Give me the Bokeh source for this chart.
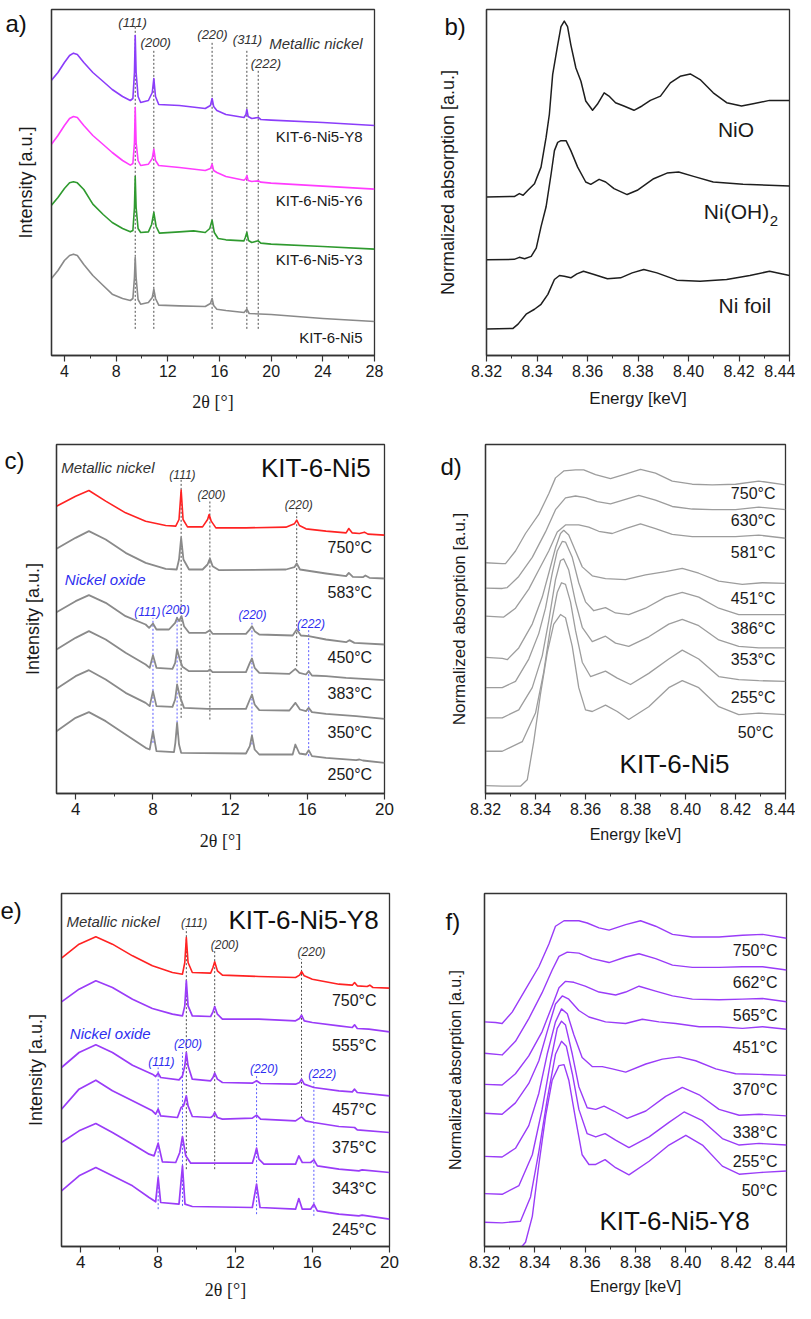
from bokeh.plotting import figure
from bokeh.models import Range1d, Title, FixedTicker, NumeralTickFormatter
from bokeh.layouts import row, column
from bokeh.embed import file_html
from bokeh.resources import INLINE
from bokeh.core.properties import value

FONT = "Liberation Sans"
SERIF = "Liberation Serif"

# ======================= panel a : XRD, reduced samples =======================
A_X = [3.0,3.5,4.0,4.4,4.7,5.0,5.5,6.2,7.0,7.7,8.5,9.1,9.3,9.42,9.48,9.55,9.7,9.9,10.5,10.8,
       10.92,11.05,11.3,12.9,14.9,15.3,15.43,15.55,15.8,16.5,17.9,18.05,18.12,18.22,18.5,19.0,19.2,20,24,28]
A_Y8 = [826,849,879,900,907,903,879,849,822,798,777,765,771,849,960,849,777,759,765,789,
        831,777,753,750,741,750,771,747,735,723,714,723,738,717,711,714,708,706,699,690]
A_Y6 = [634,660,690,711,717,714,690,660,633,609,585,571,576,639,744,639,585,570,574,591,
        619,585,570,564,555,561,574,555,549,537,526,531,540,525,522,524,520,517,508,499]
A_X_Y3 = [3.0,3.5,4.0,4.4,4.7,5.0,5.5,6.2,7.0,7.7,8.5,9.1,9.3,9.42,9.48,9.55,9.7,9.9,10.5,10.75,
          10.92,11.1,11.35,12.9,14.0,14.9,15.25,15.43,15.6,15.9,16.5,17.9,18.0,18.12,18.25,18.5,19.0,19.2,20,24,28]
A_Y3 = [451,474,501,518,521,518,498,454,423,399,381,371,375,444,537,444,381,369,371,393,
        429,387,367,371,374,369,381,406,369,351,347,344,354,369,345,339,344,337,334,327,319]
A_X_NI5 = [3.0,3.5,4.0,4.4,4.7,5.0,5.5,6.2,7.0,7.7,8.5,9.1,9.3,9.42,9.48,9.55,9.7,9.9,10.5,10.8,
           10.92,11.05,11.3,12.9,14.9,15.3,15.43,15.55,15.8,16.5,17.9,18.12,18.3,20,24,28]
A_NI5 = [231,255,285,300,304,300,273,240,210,184,171,165,171,234,294,234,168,154,159,174,
         199,171,151,149,147,156,171,150,139,135,129,139,126,123,111,102]
A_SAMPLES = ["KIT-6-Ni5-Y8", "KIT-6-Ni5-Y6", "KIT-6-Ni5-Y3", "KIT-6-Ni5"]
A_SAMPLE_Y = [657, 464, 287, 54]
A_PEAK_X = [9.48, 10.92, 15.43, 18.12, 19.0]
A_PEAK_TOP = [989, 919, 939, 919, 856]
A_PEAK_BOT = [80, 80, 80, 80, 80]
A_HKL = ["(111)", "(200)", "(220)", "(311)", "(222)"]
A_HKL_X = [9.27, 11.07, 15.46, 18.17, 19.59]
A_HKL_Y = [999, 939, 964, 949, 876]

# ======================= panel b : XANES references =======================
B_X_NIO = [8.320,8.331,8.333,8.3345,8.3364,8.339,8.3416,8.3436,8.3449,8.3462,8.3482,
           8.3495,8.3508,8.3521,8.3534,8.3554,8.3574,8.3593,8.362,8.3639,8.3666,
           8.3685,8.3711,8.3744,8.3784,8.3816,8.3849,8.3889,8.3928,8.3967,8.4007,
           8.4046,8.4098,8.4151,8.421,8.4256,8.4321,8.44]
B_NIO = [483,484,493,488,503,523,573,663,733,853,943,
         998,1015,998,943,873,833,773,745,763,798,
         788,768,758,745,758,775,788,828,848,855,
         838,798,768,758,765,775,775]
B_X_OH = [8.32,8.331,8.333,8.3351,8.3377,8.3397,8.3416,8.3436,8.3456,8.3469,
          8.3482,8.3495,8.3515,8.3534,8.3561,8.3593,8.3613,8.3646,8.3672,8.3705,
          8.3757,8.3797,8.3862,8.3915,8.3961,8.402,8.4098,8.4216,8.44]
B_OH = [293,294,300,296,303,328,393,453,553,623,
        648,653,653,623,573,528,521,536,528,508,
        490,503,538,555,558,545,528,521,516]
B_X_NI = [8.32,8.3305,8.3325,8.3357,8.339,8.3416,8.3443,8.3469,8.3489,8.3508,
          8.3534,8.3558,8.3584,8.3626,8.3679,8.3731,8.3777,8.3823,8.3875,8.3954,
          8.4046,8.4151,8.4243,8.4321,8.44]
B_NI = [83,85,98,128,143,158,188,233,245,243,
        238,250,258,248,235,238,253,263,253,231,
        228,233,245,258,245]

# ======================= panel c : XRD in situ, KIT-6-Ni5 =======================
C_X_750 = [3.0,3.99,4.68,5.55,6.58,7.62,8.66,9.18,9.35,9.46,9.56,9.79,10.57,10.83,10.91,11.02,11.26,
           12.82,14.89,15.33,15.45,15.59,15.93,16.97,18.01,18.15,18.32,18.70,18.96,19.14,20.0]
C_750 = [863,893,910,878,843,818,805,803,823,911,823,801,801,823,838,818,798,
         798,800,810,821,805,795,788,783,796,783,781,785,779,776]
C_X_583 = [3.0,3.99,4.68,5.55,6.58,7.62,8.66,9.23,9.35,9.46,9.58,9.87,10.57,10.83,10.95,11.09,11.43,
           14.89,15.33,15.45,15.62,16.97,18.01,18.15,18.36,18.88,19.01,19.22,20.0]
C_583 = [735,768,788,763,723,693,675,673,703,768,703,673,673,688,706,683,671,
         673,680,691,673,661,653,663,651,650,655,648,646]
C_X_450 = [3.0,3.99,4.68,5.55,6.58,7.62,7.80,8.00,8.18,8.83,9.15,9.25,9.35,9.48,9.61,9.87,10.74,10.95,
           11.09,12.82,12.99,13.13,13.27,13.51,15.24,15.45,15.67,16.07,16.97,18.01,18.18,18.44,20.0]
C_450 = [545,578,596,573,533,508,498,511,493,493,513,528,518,533,503,483,483,491,
         480,480,491,503,488,478,475,493,475,473,463,455,461,453,448]
C_X_383 = [3.0,3.99,4.68,5.55,6.58,7.62,7.83,8.00,8.18,9.01,9.15,9.25,9.39,9.53,9.87,10.83,10.95,11.09,
           12.82,13.02,13.13,13.27,13.51,15.07,15.38,15.59,15.93,16.07,16.24,16.97,18.01,20.0]
C_383 = [433,468,488,463,423,388,378,416,378,375,393,433,403,381,368,368,373,365,
         365,393,406,378,363,360,375,363,358,368,355,353,348,341]
C_X_350 = [3.0,3.99,4.68,5.55,6.58,7.62,7.83,8.00,8.18,9.01,9.15,9.25,9.39,9.61,10.83,12.82,13.02,13.13,
           13.27,13.51,15.07,15.38,15.62,15.93,16.07,16.24,16.97,18.53,20.0]
C_350 = [315,353,371,343,303,273,263,308,263,261,283,328,293,258,255,255,283,298,
         268,251,250,273,253,248,258,245,240,233,225]
C_X_250 = [3.0,3.99,4.68,5.55,6.58,7.62,7.83,8.00,8.18,9.09,9.16,9.25,9.35,9.46,12.82,13.02,13.13,13.27,
           13.51,15.24,15.38,15.59,15.93,16.07,16.24,16.97,18.53,18.70,18.88,20.0]
C_250 = [188,228,245,218,178,138,133,188,128,125,153,213,148,123,121,143,175,133,
         118,118,148,121,118,131,113,108,101,103,100,93]
C_TEMPS = ["750°C", "583°C", "450°C", "383°C", "350°C", "250°C"]
C_TEMP_Y = [738, 603, 408, 300, 185, 58]
C_NI_PK = [9.46, 10.95, 15.45]
C_NI_TOP = [943, 881, 853]
C_NI_BOT = [228, 223, 383]
C_NI_HKL = ["(111)", "(200)", "(220)"]
C_NI_HKL_X = [9.53, 11.03, 15.55]
C_NI_HKL_Y = [958, 898, 866]
C_OX_PK = [8.00, 9.25, 13.13, 16.07]
C_OX_TOP = [528, 531, 513, 493]
C_OX_BOT = [153, 178, 148, 113]
C_OX_HKL = ["(111)", "(200)", "(220)", "(222)"]
C_OX_HKL_X = [7.71, 9.18, 13.16, 16.19]
C_OX_HKL_Y = [545, 553, 536, 511]

# ======================= panel d : XANES in situ, KIT-6-Ni5 =======================
D_X_750 = [8.32,8.3267,8.328,8.332,8.336,8.3413,8.3453,8.348,8.3513,8.356,8.3593,8.364,8.37,8.376,
           8.382,8.388,8.3947,8.4027,8.4107,8.42,8.4293,8.44]
D_750 = [723,720,720,760,815,875,940,990,1012,1015,1015,1000,988,1002,1017,1005,980,970,968,970,980,968]
D_X_630 = [8.32,8.3267,8.3287,8.3333,8.3387,8.344,8.348,8.352,8.356,8.36,8.3647,8.37,8.376,8.3813,
           8.388,8.3947,8.4027,8.4107,8.42,8.4293,8.44]
D_630 = [643,642,645,680,740,820,890,927,933,928,915,908,922,935,920,900,892,890,890,898,890]
D_X_581 = [8.32,8.3253,8.3273,8.332,8.3373,8.3413,8.3453,8.3487,8.352,8.3573,8.3613,8.3653,8.3707,
           8.376,8.382,8.388,8.3947,8.4027,8.4107,8.42,8.4293,8.44]
D_581 = [555,553,552,580,640,700,760,820,842,842,835,822,815,830,845,830,812,805,805,805,810,800]
D_X_451 = [8.32,8.3267,8.3287,8.3333,8.3387,8.3427,8.3453,8.348,8.35,8.3513,8.3533,8.356,8.3587,
           8.3627,8.368,8.376,8.384,8.392,8.3987,8.4053,8.4133,8.4227,8.4307,8.44]
D_451 = [425,422,418,455,530,615,690,770,815,825,810,760,710,682,673,670,685,695,705,690,665,655,660,658]
D_X_386 = [8.32,8.3267,8.332,8.3373,8.3413,8.344,8.3467,8.3487,8.3507,8.352,8.3547,8.3573,8.36,
           8.3633,8.368,8.372,8.3773,8.384,8.392,8.3987,8.4053,8.4133,8.4213,8.4293,8.44]
D_386 = [330,330,350,420,500,580,690,760,790,788,740,660,600,572,582,565,560,580,615,630,615,580,560,560,560]
D_X_353 = [8.32,8.3267,8.3333,8.3387,8.3427,8.3453,8.348,8.35,8.3513,8.3533,8.356,8.3587,8.3627,
           8.368,8.372,8.3773,8.3853,8.3933,8.3987,8.4053,8.4133,8.4213,8.4293,8.44]
D_353 = [235,235,260,330,430,540,670,730,735,700,600,520,475,492,470,460,490,530,545,525,480,460,455,455]
D_X_255 = [8.32,8.3267,8.3347,8.34,8.3433,8.346,8.3487,8.3504,8.352,8.354,8.356,8.3587,8.362,
           8.368,8.3727,8.378,8.3853,8.3933,8.3987,8.4053,8.4133,8.4213,8.4293,8.44]
D_255 = [130,130,160,250,380,520,630,660,655,600,510,410,365,382,360,340,375,420,448,420,365,355,352,350]
D_X_50 = [8.32,8.3267,8.334,8.3367,8.3393,8.342,8.3447,8.3473,8.35,8.352,8.3547,8.3573,8.36,
          8.3627,8.368,8.3727,8.3773,8.3853,8.3933,8.3987,8.4053,8.4133,8.4213,8.4293,8.44]
D_50 = [22,20,20,40,160,310,440,530,560,550,460,330,260,255,275,255,230,270,330,352,330,270,245,250,245]
D_TEMPS = ["750°C", "630°C", "581°C", "451°C", "386°C", "353°C", "255°C", "50°C"]
D_TEMP_Y = [940, 855, 755, 610, 517, 420, 300, 190]

# ======================= panel e : XRD in situ, KIT-6-Ni5-Y8 =======================
E_X_750 = [3.0,3.91,4.78,5.64,6.68,7.71,8.75,9.27,9.39,9.47,9.56,9.78,10.73,10.85,10.94,11.08,11.34,
           13.23,15.13,15.34,15.44,15.58,16.00,17.38,18.07,18.19,18.33,18.84,18.98,19.14,20.0]
E_750 = [883,925,947,925,890,860,840,835,870,945,870,840,838,855,872,845,832,
         828,825,832,843,830,820,805,802,810,800,798,802,795,793]
E_X_555 = [3.0,3.91,4.78,5.64,6.68,7.71,8.75,9.27,9.39,9.47,9.56,9.78,10.73,10.85,10.94,11.08,11.34,
           13.23,15.13,15.34,15.44,15.58,16.00,17.38,18.07,18.19,18.33,18.93,20.0]
E_555 = [752,790,815,795,760,732,715,710,740,815,740,710,708,722,738,715,700,
         700,695,702,712,695,690,680,675,683,672,670,662]
E_X_457 = [3.0,3.91,4.78,5.64,6.68,7.71,7.88,8.01,8.14,9.09,9.27,9.39,9.47,9.56,9.78,10.73,10.85,10.94,
           11.08,11.34,12.89,13.11,13.32,15.13,15.34,15.44,15.58,16.08,17.38,18.07,18.19,18.33,20.0]
E_457 = [555,600,623,600,562,535,528,538,525,518,530,560,600,560,520,515,525,538,
         520,510,508,515,507,505,510,520,505,495,485,482,490,480,470]
E_X_375 = [3.0,3.91,4.78,5.64,6.68,7.71,7.88,8.01,8.14,9.01,9.20,9.33,9.47,9.56,9.78,10.73,10.85,10.94,
           11.08,11.34,12.89,13.11,13.32,15.13,15.44,15.65,16.08,17.38,18.19,18.33,20.0]
E_375 = [430,490,517,485,455,425,415,430,410,405,435,440,470,440,408,405,410,420,
         405,400,403,412,400,395,407,395,390,378,375,368,360]
E_X_343 = [3.0,3.91,4.78,5.64,6.68,7.54,7.80,8.01,8.23,8.92,9.13,9.27,9.44,9.70,12.89,13.01,13.11,13.23,
           13.49,15.13,15.30,15.48,15.91,16.08,16.26,17.38,18.41,18.58,20.0]
E_343 = [330,365,387,360,325,295,290,328,272,270,300,348,290,268,268,290,313,280,
         265,265,290,270,270,278,260,250,245,248,240]
E_X_245 = [3.0,3.91,4.78,5.64,6.68,7.54,7.88,8.01,8.14,9.09,9.27,9.40,9.78,12.89,13.11,13.29,15.13,15.30,
           15.48,15.91,16.08,16.26,17.38,18.41,18.58,20.0]
E_245 = [185,230,255,230,200,165,152,225,150,145,260,145,138,135,205,135,130,162,
         130,130,145,125,115,110,112,100]
E_TEMPS = ["750°C", "555°C", "457°C", "375°C", "343°C", "245°C"]
E_TEMP_Y = [757, 622, 430, 315, 193, 68]
E_NI_PK = [9.47, 10.94, 15.44]
E_NI_TOP = [972, 905, 880]
E_NI_BOT = [250, 250, 410]
E_NI_HKL_X = [9.87, 11.46, 15.96]
E_NI_HKL_Y = [990, 922, 902]
E_OX_PK = [8.01, 9.27, 13.11, 16.08]
E_OX_TOP = [555, 600, 532, 518]
E_OX_BOT = [130, 140, 115, 110]
E_OX_HKL_X = [8.18, 9.56, 13.49, 16.51]
E_OX_HKL_Y = [573, 627, 550, 535]

# ======================= panel f : XANES in situ, KIT-6-Ni5-Y8 =======================
F_X_750 = [8.32,8.3244,8.327,8.331,8.3363,8.3416,8.3456,8.3482,8.3516,8.3575,8.3608,8.3655,8.3695,
           8.3761,8.382,8.388,8.3947,8.4026,8.4132,8.4225,8.4305,8.44]
F_750 = [718,716,713,748,818,888,958,1013,1030,1030,1023,1008,1001,1018,1030,1013,988,980,980,985,988,976]
F_X_662 = [8.32,8.327,8.3323,8.3376,8.3429,8.3469,8.3496,8.3529,8.3575,8.3628,8.3695,8.3761,8.3814,
           8.388,8.3947,8.4026,8.4132,8.4225,8.4305,8.44]
F_662 = [621,616,658,728,808,878,920,933,930,913,901,918,928,913,893,886,886,888,888,878]
F_X_565 = [8.32,8.327,8.3323,8.3376,8.3429,8.3469,8.3496,8.3522,8.3555,8.36,8.3655,8.3721,8.3761,
           8.3814,8.388,8.3947,8.4026,8.4132,8.4225,8.4305,8.44]
F_565 = [525,523,558,613,688,768,823,843,840,828,810,801,810,828,813,798,788,786,788,790,780]
F_X_451 = [8.32,8.327,8.3323,8.3376,8.3416,8.3449,8.3482,8.3509,8.3535,8.3575,8.3615,8.3681,8.3761,
           8.3827,8.3893,8.396,8.4053,8.4132,8.4225,8.4305,8.44]
F_451 = [436,433,468,528,598,688,773,798,788,753,733,718,713,726,718,713,703,703,698,703,695]
F_X_370 = [8.32,8.327,8.3323,8.3376,8.3416,8.3449,8.3482,8.3506,8.3529,8.3555,8.3588,8.3628,8.3668,
           8.3708,8.3761,8.3841,8.3907,8.3973,8.4039,8.4119,8.4198,8.4291,8.44]
F_370 = [303,301,328,398,498,618,718,758,743,678,608,580,580,573,563,588,603,610,598,573,558,556,553]
F_X_338 = [8.32,8.327,8.3337,8.339,8.3429,8.3463,8.3489,8.3506,8.3522,8.3549,8.3575,8.3608,8.3642,
           8.3675,8.3714,8.3767,8.3841,8.392,8.3986,8.4053,8.4132,8.4212,8.4291,8.44]
F_338 = [188,186,213,308,448,598,698,720,708,618,518,453,448,458,443,420,443,488,516,493,448,430,433,428]
F_X_255 = [8.32,8.327,8.3343,8.3383,8.3416,8.3449,8.3482,8.3506,8.3525,8.3549,8.3575,8.3608,8.3642,
           8.3679,8.3721,8.3774,8.3854,8.3933,8.3993,8.4066,8.4145,8.4212,8.4291,8.44]
F_255 = [100,98,103,178,318,478,618,658,643,558,448,373,363,373,353,330,363,408,440,413,358,338,343,338]
F_X_50 = [8.32,8.327,8.3343,8.3363,8.339,8.3416,8.3443,8.3469,8.3496,8.3516,8.3535,8.3562,8.3588,
          8.3615,8.3642,8.3679,8.3721,8.3774,8.3854,8.3933,8.40,8.4066,8.4145,8.4212,8.4291,8.44]
F_50 = [23,21,20,38,118,278,428,538,583,586,538,418,308,278,278,293,268,246,288,338,368,338,273,248,253,258]
F_TEMPS = ["750°C", "662°C", "565°C", "451°C", "370°C", "338°C", "255°C", "50°C"]
F_TEMP_Y = [938, 840, 738, 638, 508, 378, 288, 198]

XRD_MAJOR = [4, 8, 12, 16, 20, 24, 28]
XRD_MINOR = [6, 10, 14, 18, 22, 26]
E_MAJOR = [8.32, 8.34, 8.36, 8.38, 8.40, 8.42, 8.44]
E_MINOR = [8.33, 8.35, 8.37, 8.39, 8.41, 8.43]

# ---------------- colours / styles ----------------
AX = "#333333"
PURPLE = "#8b3dfa"
MAGENTA = "#ff3cff"
GREEN = "#2f9a2f"
GRAY = "#8a8a8a"
LGRAY = "#9d9d9d"
RED = "#ff2222"
VIOLET = "#9a3cf8"
BLUE_TXT = "#2e2ef0"
BLUE_DASH = "#5a5aff"
DARK_DASH = "#4d4d4d"


def make_fig(w, h, bl, br, bt, bb, xr, yr):
    p = figure(width=w, height=h, x_range=Range1d(*xr), y_range=Range1d(*yr),
               output_backend="svg", toolbar_location=None, title=None,
               min_border_left=bl, min_border_right=br, min_border_top=bt, min_border_bottom=bb)
    p.grid.visible = False
    p.outline_line_color = AX
    p.outline_line_width = 1.3
    p.background_fill_color = "white"
    p.border_fill_color = "white"
    return p


def style_x(p, major, minor, label, tick_size, label_size, label_font, standoff, fmt=None):
    ax = p.xaxis[0]
    ax.ticker = FixedTicker(ticks=major, minor_ticks=minor)
    if fmt:
        ax.formatter = NumeralTickFormatter(format=fmt)
    ax.major_tick_in = 0
    ax.major_tick_out = 6
    ax.minor_tick_in = 0
    ax.minor_tick_out = 3
    ax.axis_line_color = AX
    ax.axis_line_width = 1.3
    ax.major_tick_line_color = AX
    ax.minor_tick_line_color = AX
    ax.major_tick_line_width = 1.2
    ax.major_label_standoff = 3
    ax.major_label_text_font = FONT
    ax.major_label_text_font_size = tick_size
    ax.major_label_text_color = "#1a1a1a"
    ax.axis_label = label
    ax.axis_label_text_font = label_font
    ax.axis_label_text_font_size = label_size
    ax.axis_label_text_font_style = "normal"
    ax.axis_label_text_color = "#1a1a1a"
    ax.axis_label_standoff = standoff


def style_y(p, label, size, standoff):
    ax = p.yaxis[0]
    ax.ticker = FixedTicker(ticks=[])
    ax.major_tick_out = 0
    ax.major_tick_in = 0
    ax.minor_tick_out = 0
    ax.minor_tick_in = 0
    ax.major_tick_line_color = None
    ax.minor_tick_line_color = None
    ax.major_label_standoff = 0
    ax.axis_line_color = AX
    ax.axis_line_width = 1.3
    ax.axis_label = label
    ax.axis_label_text_font = FONT
    ax.axis_label_text_font_size = size
    ax.axis_label_text_font_style = "normal"
    ax.axis_label_text_color = "#1a1a1a"
    ax.axis_label_standoff = standoff


def texts(p, xs, ys, txt, size, color="#1a1a1a", align="left", style="normal"):
    p.text(x=xs, y=ys, text=txt, text_font=value(FONT), text_font_size=size, text_color=color,
           text_align=align, text_baseline="middle", text_font_style=style)


def letter(p, t, offset, standoff):
    # panel letter, drawn as a plot title shifted left of / down beside the frame
    p.add_layout(Title(text=t, align="left", vertical_align="bottom", offset=offset, standoff=standoff,
                       text_font=FONT, text_font_size="24px", text_font_style="normal",
                       text_color="#111111"), "above")


def dashes(p, xs, top, bot, color):
    p.segment(x0=xs, y0=bot, x1=xs, y1=top, line_color=color, line_width=1.0, line_dash="2 2")


# ---------------- panel a ----------------
pa = make_fig(434, 424, 51, 60, 9, 69, (3, 28), (0, 1038))
style_x(pa, XRD_MAJOR, XRD_MINOR, "2θ [°]", "16px", "18px", SERIF, 12)
style_y(pa, "Intensity [a.u.]", "18px", 16)
dashes(pa, A_PEAK_X, A_PEAK_TOP, A_PEAK_BOT, DARK_DASH)
pa.line(A_X_NI5, A_NI5, line_color=GRAY, line_width=1.6, line_join="round")
pa.line(A_X_Y3, A_Y3, line_color=GREEN, line_width=1.6, line_join="round")
pa.line(A_X, A_Y6, line_color=MAGENTA, line_width=1.6, line_join="round")
pa.line(A_X, A_Y8, line_color=PURPLE, line_width=1.6, line_join="round")
texts(pa, A_HKL_X, A_HKL_Y, A_HKL, "13px", "#333333", "center", "italic")
texts(pa, [19.85], [937], ["Metallic nickel"], "15px", "#333333", "left", "italic")
texts(pa, [27.07] * 4, A_SAMPLE_Y, A_SAMPLES, "15px", "#1a1a1a", "right")
letter(pa, "a)", -46, -54)

# ---------------- panel b ----------------
pb = make_fig(361, 424, 50, 6, 6, 69, (8.32, 8.44), (3, 1050))
style_x(pb, E_MAJOR, E_MINOR, "Energy [keV]", "16px", "17px", FONT, 9, "0.00")
style_y(pb, "Normalized absorption [a.u.]", "18px", 29)
pb.line(B_X_NIO, B_NIO, line_color="#1e1e1e", line_width=1.5, line_join="round")
pb.line(B_X_OH, B_OH, line_color="#1e1e1e", line_width=1.5, line_join="round")
pb.line(B_X_NI, B_NI, line_color="#1e1e1e", line_width=1.5, line_join="round")
texts(pb, [8.4188, 8.4190, 8.4223], [688, 438, 153], ["NiO", "Ni(OH)", "Ni foil"], "21px", "#1a1a1a", "center")
texts(pb, [8.4322], [410], ["2"], "15px", "#1a1a1a", "left")
letter(pb, "b)", -42, -60)

# ---------------- panel c ----------------
pc = make_fig(434, 454, 56, 50, 20, 85, (3, 20), (1, 1048))
style_x(pc, XRD_MAJOR[:5], XRD_MINOR[:4], "2θ [°]", "17px", "18px", SERIF, 13)
style_y(pc, "Intensity [a.u.]", "18px", 14)
dashes(pc, C_NI_PK, C_NI_TOP, C_NI_BOT, DARK_DASH)
dashes(pc, C_OX_PK, C_OX_TOP, C_OX_BOT, BLUE_DASH)
for xs, ys in [(C_X_583, C_583), (C_X_450, C_450), (C_X_383, C_383), (C_X_350, C_350), (C_X_250, C_250)]:
    pc.line(xs, ys, line_color=GRAY, line_width=1.8, line_join="round")
pc.line(C_X_750, C_750, line_color=RED, line_width=1.6, line_join="round")
texts(pc, [3.24], [978], ["Metallic nickel"], "15px", "#333333", "left", "italic")
texts(pc, C_NI_HKL_X, C_NI_HKL_Y, C_NI_HKL, "12px", "#333333", "center", "italic")
texts(pc, [13.6], [978], ["KIT-6-Ni5"], "26px", "#111111", "left")
texts(pc, [3.43], [643], ["Nickel oxide"], "15px", BLUE_TXT, "left", "italic")
texts(pc, C_OX_HKL_X, C_OX_HKL_Y, C_OX_HKL, "12px", BLUE_TXT, "center", "italic")
texts(pc, [19.36] * 6, C_TEMP_Y, C_TEMPS, "16px", "#1a1a1a", "right")
letter(pc, "c)", -52, -58)

# ---------------- panel d ----------------
pd = make_fig(361, 454, 51, 10, 9, 79, (8.32, 8.44), (-3, 1095))
style_x(pd, E_MAJOR, E_MINOR, "Energy [keV]", "16px", "16px", FONT, 8, "0.00")
style_y(pd, "Normalized absorption [a.u.]", "17px", 17)
for xs, ys in [(D_X_750, D_750), (D_X_630, D_630), (D_X_581, D_581), (D_X_451, D_451),
               (D_X_386, D_386), (D_X_353, D_353), (D_X_255, D_255), (D_X_50, D_50)]:
    pd.line(xs, ys, line_color=LGRAY, line_width=1.3, line_join="round")
texts(pd, [8.436] * 7 + [8.4352], D_TEMP_Y, D_TEMPS, "16px", "#1a1a1a", "right")
texts(pd, [8.3956], [90], ["KIT-6-Ni5"], "26px", "#111111", "center")
letter(pd, "d)", -45, -70)

# ---------------- panel e ----------------
pe = make_fig(434, 425, 61, 45, 15, 57, (3, 20), (18, 1077))
style_x(pe, XRD_MAJOR[:5], XRD_MINOR[:4], "2θ [°]", "17px", "18px", SERIF, 9)
style_y(pe, "Intensity [a.u.]", "18px", 16)
dashes(pe, E_NI_PK, E_NI_TOP, E_NI_BOT, DARK_DASH)
dashes(pe, E_OX_PK, E_OX_TOP, E_OX_BOT, BLUE_DASH)
for xs, ys in [(E_X_555, E_555), (E_X_457, E_457), (E_X_375, E_375), (E_X_343, E_343), (E_X_245, E_245)]:
    pe.line(xs, ys, line_color=VIOLET, line_width=1.7, line_join="round")
pe.line(E_X_750, E_750, line_color=RED, line_width=1.6, line_join="round")
texts(pe, [3.26], [993], ["Metallic nickel"], "15px", "#333333", "left", "italic")
texts(pe, E_NI_HKL_X, E_NI_HKL_Y, C_NI_HKL, "12px", "#333333", "center", "italic")
texts(pe, [11.65], [998], ["KIT-6-Ni5-Y8"], "26px", "#111111", "left")
texts(pe, [3.43], [658], ["Nickel oxide"], "15px", BLUE_TXT, "left", "italic")
texts(pe, E_OX_HKL_X, E_OX_HKL_Y, C_OX_HKL, "12px", BLUE_TXT, "center", "italic")
texts(pe, [19.33] * 6, E_TEMP_Y, E_TEMPS, "16px", "#1a1a1a", "right")
letter(pe, "e)", -61, -60)

# ---------------- panel f ----------------
pf = make_fig(361, 425, 50, 9, 5, 57, (8.32, 8.44), (25, 1114))
style_x(pf, E_MAJOR, E_MINOR, "Energy [keV]", "16px", "16px", FONT, 7, "0.00")
style_y(pf, "Normalized absorption [a.u.]", "16px", 21)
for xs, ys in [(F_X_750, F_750), (F_X_662, F_662), (F_X_565, F_565), (F_X_451, F_451),
               (F_X_370, F_370), (F_X_338, F_338), (F_X_255, F_255), (F_X_50, F_50)]:
    pf.line(xs, ys, line_color=VIOLET, line_width=1.4, line_join="round")
texts(pf, [8.4364] * 8, F_TEMP_Y, F_TEMPS, "16px", "#1a1a1a", "right")
texts(pf, [8.3955], [103], ["KIT-6-Ni5-Y8"], "26px", "#111111", "center")
letter(pf, "f)", -39, -82)

layout = column(row(pa, pb), row(pc, pd), row(pe, pf))
open("out.html", "w").write(file_html(layout, INLINE))
